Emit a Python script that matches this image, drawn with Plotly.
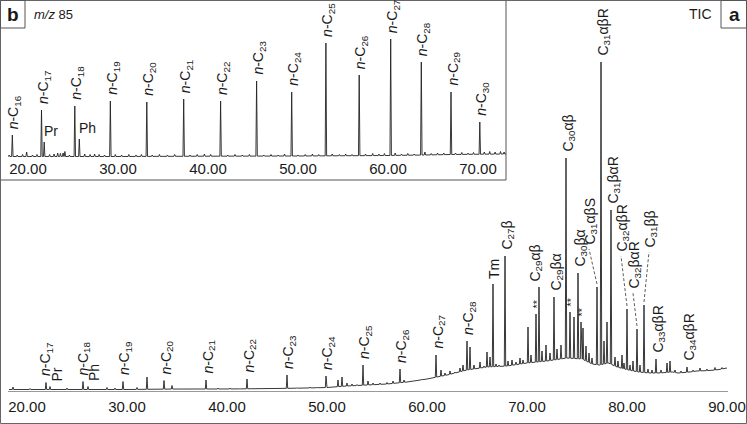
import numpy as np
import plotly.graph_objects as go

# ---------------- Panel a : TIC ----------------
tic_base_t = [18.2, 25, 30, 35, 40, 45, 48, 50, 52, 54, 56, 58, 60, 62, 64, 66, 68, 70, 72, 74,
              75.5, 76.5, 77.25, 78.15, 79, 80.15, 81.15, 82.3, 83.2, 84.55, 85.1, 86.3, 87.0, 88.4, 89.2, 90.0]
tic_base_y = [1.5, 1.5, 1.5, 2, 2, 2.5, 3, 3.5, 5, 6, 7, 9, 12, 16, 21, 24, 25, 28, 30, 33,
              32, 27, 26, 28, 24, 21, 19, 18, 18, 19, 18, 19, 20, 20.5, 21.5, 23]

tic_peak_t = [18.6, 20.3, 21.9, 22.3, 24.0, 25.6, 26.1, 28.0, 28.8, 29.6, 31.0, 32.0, 33.7, 34.5, 35.8,
              37.9, 39.1, 40.3, 41.3, 42.0, 44.0, 46.0, 47.0, 48.3, 49.0, 49.9, 51.1, 51.5, 52.0, 52.5,
              53.0, 53.6, 54.1, 54.6, 55.3, 56.0, 56.6, 57.3, 57.7, 58.8, 59.5, 60.2, 60.9, 61.4, 61.8,
              62.3, 62.8, 63.3, 63.6, 64.0, 64.3, 64.7, 65.3, 65.7, 66.0, 66.3, 66.6, 66.9, 67.2, 67.8,
              68.1, 68.5, 68.9, 69.3, 69.6, 70.1, 70.4, 70.9, 71.2, 71.5, 71.9, 72.3, 72.7, 73.0, 73.4,
              73.9, 74.3, 74.7, 75.1, 75.4, 75.6, 75.9, 76.2, 76.5, 77.0, 77.4, 77.7, 78.0, 78.4, 78.8,
              79.1, 79.5, 79.7, 80.0, 80.3, 80.6, 81.0, 81.3, 81.7, 82.1, 82.5, 82.9, 83.4, 84.0, 84.3,
              84.8, 85.4, 86.0, 86.6, 87.3, 88.0, 88.8, 89.5]
tic_peak_y = [4, 2.5, 8.5, 4.5, 3, 9.5, 4.5, 3.5, 3, 9.5, 3.5, 14, 10.5, 5.5, 2.5,
              11, 3, 3, 2.5, 12, 3, 16, 3.5, 4, 4, 15, 11, 14, 8, 7,
              6.5, 26, 10, 8, 8, 8.5, 10, 22, 11, 10, 12, 13, 36, 21, 18,
              20, 19, 23, 26, 50, 44, 26, 29, 25, 39, 34, 107, 27, 26, 135,
              30, 31, 29, 33, 31, 64, 36, 77, 104, 40, 46, 38, 94, 42, 46,
              233, 79, 74, 118, 69, 63, 45, 38, 33, 104, 329, 50, 69, 181, 34,
              30, 36, 28, 82, 26, 30, 62, 26, 86, 22, 21, 32, 21, 28, 30,
              21, 20, 24, 21, 23, 22, 23.5, 23.5]

# (key, label, retention time of labelled peak)
tic_labels = [
    ("nC17", "<i>n</i>-C<sub>17</sub>", 21.9), ("Pr", "Pr", 22.3),
    ("nC18", "<i>n</i>-C<sub>18</sub>", 25.6), ("Ph", "Ph", 26.1),
    ("nC19", "<i>n</i>-C<sub>19</sub>", 29.6), ("nC20", "<i>n</i>-C<sub>20</sub>", 33.7),
    ("nC21", "<i>n</i>-C<sub>21</sub>", 37.9), ("nC22", "<i>n</i>-C<sub>22</sub>", 42.0),
    ("nC23", "<i>n</i>-C<sub>23</sub>", 46.0), ("nC24", "<i>n</i>-C<sub>24</sub>", 49.9),
    ("nC25", "<i>n</i>-C<sub>25</sub>", 53.6), ("nC26", "<i>n</i>-C<sub>26</sub>", 57.3),
    ("nC27", "<i>n</i>-C<sub>27</sub>", 60.9), ("nC28", "<i>n</i>-C<sub>28</sub>", 64.0),
    ("Tm", "Tm", 66.6), ("C27b", "C<sub>27</sub>β", 67.8),
    ("ast1", "**", 70.9), ("C29ab", "C<sub>29</sub>αβ", 71.2),
    ("C29ba", "C<sub>29</sub>βα", 72.7), ("C30ab", "C<sub>30</sub>αβ", 73.9),
    ("ast2", "**", 74.3), ("C30ba", "C<sub>30</sub>βα", 75.1), ("ast3", "**", 75.4),
    ("C31abS", "C<sub>31</sub>αβS", 77.0), ("C31abR", "C<sub>31</sub>αβR", 77.4),
    ("C31baR", "C<sub>31</sub>βαR", 78.4), ("C32abR", "C<sub>32</sub>αβR", 80.0),
    ("C32baR", "C<sub>32</sub>βαR", 81.0), ("C31bb", "C<sub>31</sub>ββ", 81.7),
    ("C33abR", "C<sub>33</sub>αβR", 82.9), ("C34abR", "C<sub>34</sub>αβR", 86.0),
]
tic_ticks = [20, 30, 40, 50, 60, 70, 80, 90]

# ---------------- Panel b : m/z 85 ----------------
mz_base_t = [17.8, 30, 40, 50, 60, 64, 67, 73.1]
mz_base_y = [1.5, 1.5, 1.8, 2, 2.5, 3, 3.5, 4]

mz_peak_t = [17.9, 18.26, 18.8, 19.4, 19.85, 20.5, 21.0, 21.5, 21.8, 22.4, 22.9, 23.3, 23.6, 23.9, 24.1,
             24.6, 25.2, 25.7, 26.3, 26.9, 27.4, 27.9, 28.5, 29.15, 29.7, 30.4, 31.2, 32.0, 32.6, 33.2,
             33.8, 34.6, 35.5, 36.3, 37.3, 38.0, 38.8, 39.6, 40.3, 41.4, 42.2, 43.0, 43.8, 44.6, 45.4,
             46.2, 47.0, 47.8, 48.5, 49.3, 50.0, 50.8, 51.6, 52.3, 53.1, 53.8, 54.6, 55.3, 56.0, 56.8,
             57.5, 58.3, 59.0, 59.6, 60.3, 60.8, 61.5, 62.2, 62.9, 63.7, 64.1, 64.8, 65.5, 66.2, 67.0,
             67.5, 68.2, 68.9, 69.5, 70.2, 70.7, 71.3, 71.9, 72.5, 72.9]
mz_peak_y = [3, 23, 3, 3.5, 6, 3, 3.5, 48, 16, 3.5, 4, 5, 4.5, 5, 6.5,
             3, 52, 19, 4, 3.5, 4, 3.5, 3, 57, 3.5, 3, 3.5, 3, 3.5, 56,
             3, 3.5, 3, 3.5, 59, 3, 3.5, 4, 3.5, 57, 3, 3.5, 3, 3.5, 77,
             3, 3.5, 3, 4, 66, 3, 3.5, 4, 3.5, 115, 4, 3.5, 4, 3.5, 83,
             4, 4.5, 4, 4.5, 119, 5, 4, 4.5, 4, 96, 6, 4.5, 5, 5, 66,
             5, 5.5, 5, 5.5, 36, 6, 6.5, 6, 6.5, 6]

mz_labels = [
    ("nC16", "<i>n</i>-C<sub>16</sub>", 18.26), ("nC17", "<i>n</i>-C<sub>17</sub>", 21.5),
    ("Pr", "Pr", 21.8), ("nC18", "<i>n</i>-C<sub>18</sub>", 25.2), ("Ph", "Ph", 25.7),
    ("nC19", "<i>n</i>-C<sub>19</sub>", 29.15), ("nC20", "<i>n</i>-C<sub>20</sub>", 33.2),
    ("nC21", "<i>n</i>-C<sub>21</sub>", 37.3), ("nC22", "<i>n</i>-C<sub>22</sub>", 41.4),
    ("nC23", "<i>n</i>-C<sub>23</sub>", 45.4), ("nC24", "<i>n</i>-C<sub>24</sub>", 49.3),
    ("nC25", "<i>n</i>-C<sub>25</sub>", 53.1), ("nC26", "<i>n</i>-C<sub>26</sub>", 56.8),
    ("nC27", "<i>n</i>-C<sub>27</sub>", 60.3), ("nC28", "<i>n</i>-C<sub>28</sub>", 63.7),
    ("nC29", "<i>n</i>-C<sub>29</sub>", 67.0), ("nC30", "<i>n</i>-C<sub>30</sub>", 70.2),
]
mz_ticks = [20, 30, 40, 50, 60, 70]

# ---------------- styling ----------------
W, H = 747, 424
FONT = "Liberation Sans, Arial, Helvetica, sans-serif"
INK = "#1a1a1a"

# main axes geometry (pixels)
MX0, MX1, MY0 = 8, 728, 391
MAIN_XR = [18.1, 90.1]
MAIN_YR = [0, 391]
# inset geometry
IX0, IX1, IY0, IB = 8, 506, 158, 180
INS_XR = [20 - 20 / 9, 20 - 20 / 9 + (IX1 - IX0) / 9]
INS_YR = [0, 158]


def build_trace(bt, by, pt, py, hw):
    pts = [(t, y) for t, y in zip(bt, by) if all(abs(t - p) > hw for p in pt)]
    for t, y in zip(pt, py):
        pts += [(t - hw, float(np.interp(t - hw, bt, by))), (t, y),
                (t + hw, float(np.interp(t + hw, bt, by)))]
    pts.sort()
    return [p[0] for p in pts], [p[1] for p in pts]


fig = go.Figure()
tx, ty = build_trace(tic_base_t, tic_base_y, tic_peak_t, tic_peak_y, 0.07)
fig.add_trace(go.Scatter(x=tx, y=ty, mode="lines", line=dict(color="#222", width=0.9),
                         xaxis="x", yaxis="y", hoverinfo="skip", showlegend=False))
ix, iy = build_trace(mz_base_t, mz_base_y, mz_peak_t, mz_peak_y, 0.08)
fig.add_trace(go.Scatter(x=ix, y=iy, mode="lines", line=dict(color="#222", width=0.9),
                         xaxis="x2", yaxis="y2", hoverinfo="skip", showlegend=False))

ann = []
shapes = []

# px per data unit
mpx = (MX1 - MX0) / (MAIN_XR[1] - MAIN_XR[0])
mpy = MY0 / (MAIN_YR[1] - MAIN_YR[0])

# label offsets (pixels): dx, dy above peak top
tic_offsets = {"nC17": (0, 4), "nC18": (0, 4), "Pr": (6, 3), "Ph": (6, 3), "C29ab": (-4, 3), "Tm": (1, 3),
               "C31abS": (-7, 40), "C32abR": (-5, 55), "C32baR": (-3, 38), "C31bb": (6, 55)}
leader = {"C31abS", "C32abR", "C32baR", "C31bb"}


def peak_height(t, pt, py):
    i = int(np.argmin(np.abs(np.array(pt) - t)))
    return py[i]


for key, text, t in tic_labels:
    h = peak_height(t, tic_peak_t, tic_peak_y)
    dx, dy = tic_offsets.get(key, (2, 4))
    size = 14
    if key.startswith("ast"):
        dx, dy, size = 0, 3, 11
    ann.append(dict(x=t, y=h, xref="x", yref="y", text=text, showarrow=False, textangle=-90,
                    xanchor="center", yanchor="bottom", xshift=dx, yshift=dy,
                    font=dict(family=FONT, size=size, color=INK)))
    if key in leader:
        shapes.append(dict(type="line", xref="x", yref="y", x0=t, y0=h + 3 / mpy,
                           x1=t + (dx - 1) / mpx, y1=h + (dy - 2) / mpy,
                           line=dict(color="#333", width=0.8, dash="3px,2px")))

for key, text, t in mz_labels:
    h = peak_height(t, mz_peak_t, mz_peak_y)
    if key in ("Pr", "Ph"):
        ann.append(dict(x=t, y=h, xref="x2", yref="y2", text=text, showarrow=False,
                        xanchor="left", yanchor="bottom", xshift=-2, yshift=1,
                        font=dict(family=FONT, size=14, color=INK)))
    else:
        ann.append(dict(x=t, y=h, xref="x2", yref="y2", text=text, showarrow=False, textangle=-90,
                        xanchor="center", yanchor="bottom", xshift=2, yshift=4,
                        font=dict(family=FONT, size=14, color=INK)))

# panel letters and titles
ann += [
    dict(x=12.5 / W, y=1 - 14 / H, xref="paper", yref="paper", text="<b>b</b>", showarrow=False,
         xanchor="center", yanchor="middle", font=dict(family=FONT, size=19, color=INK)),
    dict(x=32 / W, y=1 - 14 / H, xref="paper", yref="paper", text="<i>m/z</i> 85", showarrow=False,
         xanchor="left", yanchor="middle", font=dict(family=FONT, size=13, color=INK)),
    dict(x=734 / W, y=1 - 14 / H, xref="paper", yref="paper", text="<b>a</b>", showarrow=False,
         xanchor="center", yanchor="middle", font=dict(family=FONT, size=19, color=INK)),
    dict(x=714 / W, y=1 - 14 / H, xref="paper", yref="paper", text="TIC", showarrow=False,
         xanchor="right", yanchor="middle", font=dict(family=FONT, size=14, color=INK)),
]

shapes += [
    # inset background box
    dict(type="rect", xref="paper", yref="paper", x0=0.5 / W, x1=IX1 / W, y0=1 - IB / H, y1=1 - 0.5 / H,
         line=dict(color="#555", width=1), fillcolor="white", layer="below"),
    # outer frame
    dict(type="rect", xref="paper", yref="paper", x0=0.5 / W, x1=1 - 0.5 / W, y0=0.5 / H, y1=1 - 0.5 / H,
         line=dict(color="#666", width=1), layer="above"),
    # letter boxes
    dict(type="rect", xref="paper", yref="paper", x0=0.5 / W, x1=25 / W, y0=1 - 28 / H, y1=1 - 0.5 / H,
         line=dict(color="#555", width=1), fillcolor="white", layer="above"),
    dict(type="rect", xref="paper", yref="paper", x0=721 / W, x1=1 - 0.5 / W, y0=1 - 28 / H, y1=1 - 0.5 / H,
         line=dict(color="#555", width=1), fillcolor="rgba(0,0,0,0)", layer="above"),
]

tickfont = dict(family=FONT, size=15, color=INK)
fig.update_layout(
    width=W, height=H, margin=dict(l=0, r=0, t=0, b=0, autoexpand=False),
    paper_bgcolor="white", plot_bgcolor="rgba(0,0,0,0)",
    xaxis=dict(domain=[MX0 / W, MX1 / W], range=MAIN_XR, tickvals=tic_ticks, tickformat=".2f",
               showline=True, linecolor="#999", linewidth=1, showgrid=False, zeroline=False,
               ticks="outside", ticklen=2, tickcolor="rgba(0,0,0,0)", tickfont=tickfont, anchor="y"),
    yaxis=dict(domain=[(H - MY0) / H, 1], range=MAIN_YR, visible=False, anchor="x"),
    xaxis2=dict(domain=[IX0 / W, IX1 / W], range=INS_XR, tickvals=mz_ticks, tickformat=".2f",
                showline=False, showgrid=False, zeroline=False, ticks="",
                tickfont=tickfont, anchor="y2"),
    yaxis2=dict(domain=[(H - IY0) / H, 1], range=INS_YR, visible=False, anchor="x2"),
    annotations=ann, shapes=shapes,
)

fig.write_html("out.html", config={"displayModeBar": False},
               post_script="document.body.style.margin='0';document.body.style.overflow='hidden';")
